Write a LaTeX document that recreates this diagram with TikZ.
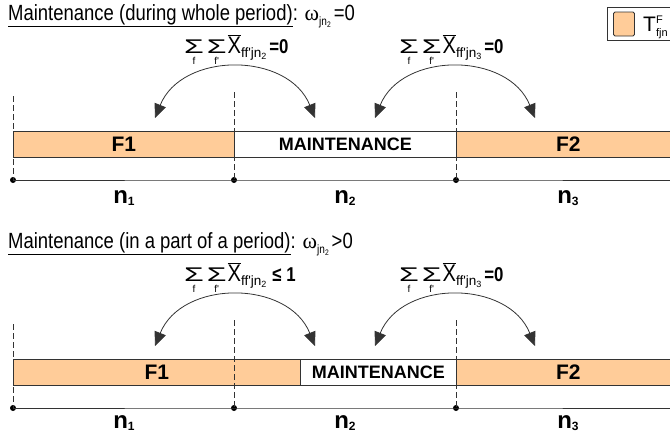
\documentclass[tikz,border=0pt]{standalone}
\usepackage{fontspec}
\setmainfont{Liberation Sans}
\newfontfamily\nar[FakeStretch=0.84]{Liberation Sans}
\newfontfamily\reg{Liberation Sans}
\newfontfamily\serifgr{Liberation Serif}
\usetikzlibrary{arrows.meta}
\definecolor{peach}{HTML}{FFCC99}
\definecolor{edge}{HTML}{333333}
\newcommand\SumSub[1]{\vtop{\offinterlineskip\halign{\hfil##\hfil\cr\scalebox{1.45}[0.9]{\reg\fontsize{22}{22}\selectfont Σ}\cr\noalign{\vskip4pt}\reg\fontsize{10}{10}\selectfont #1\cr}}}
\newcommand\Xb{{\fontsize{24}{24}\selectfont$\overline{\hbox{X}}$}}
\newcommand\Sb[1]{\raisebox{-4pt}{\reg\fontsize{13.5}{13.5}\selectfont #1}}
\newcommand\Ssb[1]{\raisebox{-2.5pt}{\reg\fontsize{9}{9}\selectfont #1}}
\newcommand\Tb[1]{\raisebox{-5pt}{\fontsize{12}{12}\selectfont #1}}
\newcommand\Tsb[1]{\raisebox{-2.5pt}{\fontsize{8}{8}\selectfont #1}}
\newcommand\nlab[1]{{\bfseries n}\raisebox{-2pt}{\fontsize{12}{12}\selectfont\bfseries #1}}
\begin{document}
\begin{tikzpicture}[x=1pt,y=-1pt,
  bar/.style={draw=edge, line width=0.8pt, minimum height=26pt, inner sep=0pt, anchor=north west, font=\bfseries\fontsize{21}{21}\selectfont},
  mbar/.style={bar, fill=white, font=\bfseries\fontsize{18}{18}\selectfont},
  fbar/.style={bar, fill=peach},
  guide/.style={draw=edge, line width=0.7pt, dash pattern=on 6pt off 3pt},
  axis/.style={draw=edge, line width=0.8pt},
  dot/.style={circle, fill=black, inner sep=0pt, minimum size=6pt},
  arc/.style={draw=edge, line width=0.8pt, {Triangle[length=14pt,width=12pt]}-{Triangle[length=14pt,width=12pt]}},
  title/.style={anchor=base west, inner sep=0pt, font=\nar\fontsize{22}{22}\selectfont},
  formula/.style={anchor=base west, inner sep=0pt, font=\nar\fontsize{18}{18}\selectfont},
  nlabel/.style={anchor=base, inner sep=0pt, font=\fontsize{24}{24}\selectfont}]
\useasboundingbox (0,0) rectangle (670,432);

% ---------- legend ----------
\node[draw=edge, line width=0.8pt, anchor=north west, minimum width=80pt, minimum height=33pt] (leg) at (607,7) {};
\node[draw=edge, fill=peach, line width=0.8pt, rounded corners=1.5pt, minimum width=21pt, minimum height=24pt, inner sep=0pt] (sw) at (624,24) {};
\node[anchor=base west, inner sep=0pt, font=\fontsize{21}{21}\selectfont] (legt) at (643,31) {T\rlap{\raisebox{8pt}{\fontsize{11}{11}\selectfont F}}\raisebox{-5pt}{\fontsize{11}{11}\selectfont fjn}};

% ---------- section 1 ----------
\node[title] (t1) at (8,20) {\underline{Maintenance (during whole period)}: {\serifgr ω}\Tb{jn\Tsb{2}}\kern3pt=0};
\node[formula] (fa1) at (184,53) {\SumSub{f}\kern3pt\SumSub{f'}\kern1pt\Xb\Sb{ff'jn\Ssb{2}}\kern3pt{\fontsize{20}{20}\selectfont\bfseries =0}};
\node[formula] (fb1) at (399,53) {\SumSub{f}\kern3pt\SumSub{f'}\kern1pt\Xb\Sb{ff'jn\Ssb{3}}\kern3pt{\fontsize{20}{20}\selectfont\bfseries =0}};

\coordinate (g1) at (13,96);
\coordinate (g2) at (234,92);
\coordinate (g3) at (456,92);
\node[dot] (d1) at (13,180) {};
\node[dot] (d2) at (234,180) {};
\node[dot] (d3) at (456,180) {};
\coordinate (e1) at (672,180);

\node[fbar, minimum width=221pt] (f1a) at (13,131) {F1};
\node[mbar, minimum width=222pt] (ma) at (234,131) {MAINTENANCE};
\node[fbar, minimum width=224pt] (f2a) at (456,131) {F2};

\draw[guide] (g1) -- (d1.center);
\draw[guide] (g2) -- (d2.center);
\draw[guide] (g3) -- (d3.center);
\draw[axis] (d1.center) -- (d2.center) -- (d3.center) -- (e1);

\coordinate (a1) at (155,118);
\coordinate (b1) at (315,118);
\coordinate (a2) at (375,118);
\coordinate (b2) at (535,118);
\draw[arc] (a1) to[bend left=68, looseness=1.15] (b1);
\draw[arc] (a2) to[bend left=68, looseness=1.15] (b2);

\node[nlabel] (n1a) at (124,203) {\nlab{1}};
\node[nlabel] (n2a) at (345,203) {\nlab{2}};
\node[nlabel] (n3a) at (568,203) {\nlab{3}};

% ---------- section 2 ----------
\node[title] (t2) at (8,248) {\underline{Maintenance (in a part of a period)}: {\serifgr ω}\Tb{jn\Tsb{2}}\kern3pt>0};
\node[formula] (fa2) at (184,281) {\SumSub{f}\kern3pt\SumSub{f'}\kern1pt\Xb\Sb{ff'jn\Ssb{2}}\kern6pt{\fontsize{20}{20}\selectfont\bfseries ≤ 1}};
\node[formula] (fb2) at (399,281) {\SumSub{f}\kern3pt\SumSub{f'}\kern1pt\Xb\Sb{ff'jn\Ssb{3}}\kern3pt{\fontsize{20}{20}\selectfont\bfseries =0}};

\coordinate (h1) at (13,324);
\coordinate (h2) at (234,320);
\coordinate (h3) at (456,320);
\node[dot] (p1) at (13,408) {};
\node[dot] (p2) at (234,408) {};
\node[dot] (p3) at (456,408) {};
\coordinate (e2) at (672,408);

\node[fbar, minimum width=287pt] (f1b) at (13,359) {F1};
\node[mbar, minimum width=156pt] (mb) at (300,359) {MAINTENANCE};
\node[fbar, minimum width=224pt] (f2b) at (456,359) {F2};

\draw[guide] (h1) -- (p1.center);
\draw[guide] (h2) -- (p2.center);
\draw[guide] (h3) -- (p3.center);
\draw[axis] (p1.center) -- (p2.center) -- (p3.center) -- (e2);

\coordinate (a3) at (155,346);
\coordinate (b3) at (315,346);
\coordinate (a4) at (375,346);
\coordinate (b4) at (535,346);
\draw[arc] (a3) to[bend left=68, looseness=1.15] (b3);
\draw[arc] (a4) to[bend left=68, looseness=1.15] (b4);

\node[nlabel] (n1b) at (124,428) {\nlab{1}};
\node[nlabel] (n2b) at (345,428) {\nlab{2}};
\node[nlabel] (n3b) at (568,428) {\nlab{3}};
\end{tikzpicture}
\end{document}
